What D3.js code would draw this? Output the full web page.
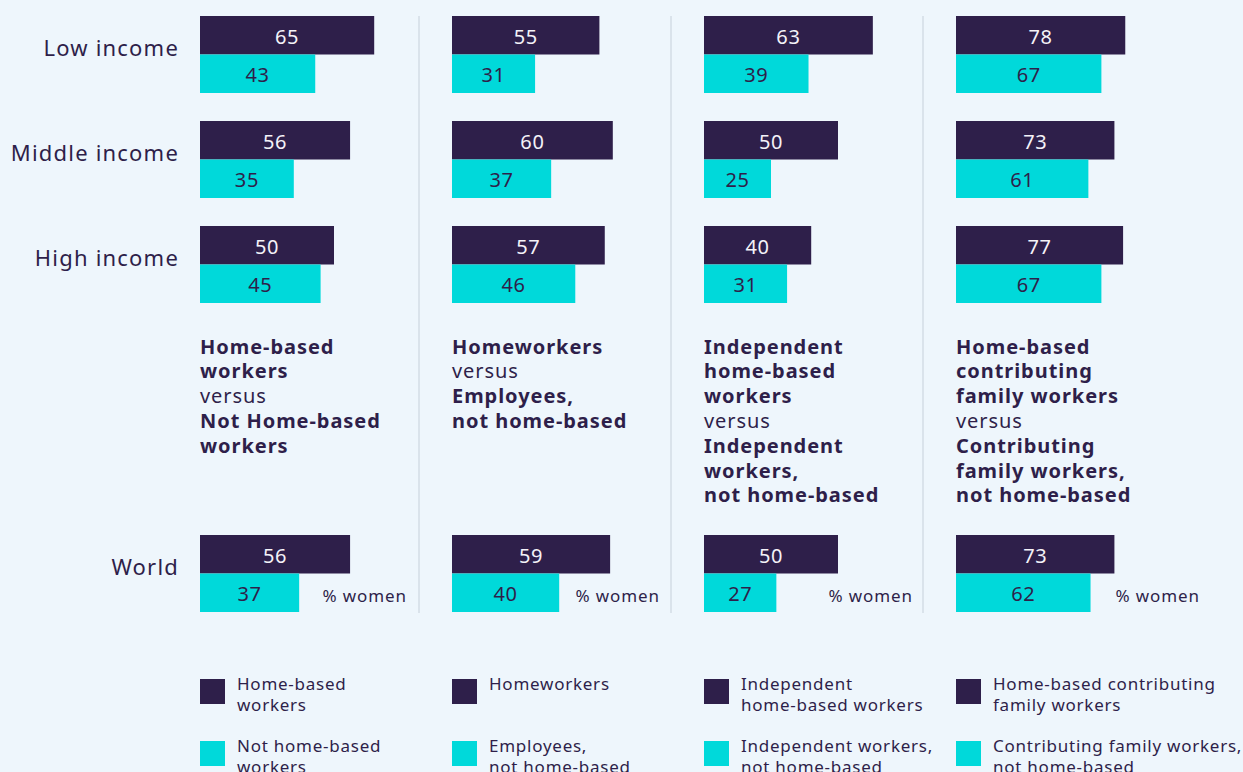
<!DOCTYPE html>
<html>
<head>
<meta charset="utf-8">
<script src="https://cdn.jsdelivr.net/npm/d3@7"></script>
<style>
  html, body { margin: 0; padding: 0; background: #eef6fc; }
  svg { display: block; font-family: "Noto Sans", "Open Sans", sans-serif; }
</style>
</head>
<body>
<div id="chart"></div>
<script>
// regions (rows), World is drawn below the descriptions
var regions = ["Low income", "Middle income", "High income", "World"];

// % women, one array per panel: dark = home-based group, light = comparison group
var darkValues = [
    [65, 56, 50, 56],
    [55, 60, 57, 59],
    [63, 50, 40, 50],
    [78, 73, 77, 73]
];
var lightValues = [
    [43, 35, 45, 37],
    [31, 37, 46, 40],
    [39, 25, 31, 27],
    [67, 61, 67, 62]
];

// description lines per panel, [text, bold]
var descriptions = [
    [["Home-based", 1], ["workers", 1], ["versus", 0], ["Not Home-based", 1], ["workers", 1]],
    [["Homeworkers", 1], ["versus", 0], ["Employees,", 1], ["not home-based", 1]],
    [["Independent", 1], ["home-based", 1], ["workers", 1], ["versus", 0], ["Independent", 1], ["workers,", 1], ["not home-based", 1]],
    [["Home-based", 1], ["contributing", 1], ["family workers", 1], ["versus", 0], ["Contributing", 1], ["family workers,", 1], ["not home-based", 1]]
];

var darkLegend = [
    ["Home-based", "workers"],
    ["Homeworkers"],
    ["Independent", "home-based workers"],
    ["Home-based contributing", "family workers"]
];
var lightLegend = [
    ["Not home-based", "workers"],
    ["Employees,", "not home-based"],
    ["Independent workers,", "not home-based"],
    ["Contributing family workers,", "not home-based"]
];

var unitLabel = "% women";

var W = 1243, H = 772;
var dark = "#2e1f4a", light = "#00d9da", ink = "#2e1f4a";

var svg = d3.select("#chart").append("svg")
    .attr("width", W)
    .attr("height", H);

svg.append("rect").attr("width", W).attr("height", H).attr("fill", "#eef6fc");

var panelX = d3.scaleBand().domain(d3.range(4)).range([200, 1208]);
var barH = 38.5;
var rowTop = [16, 121, 226, 535];
var unitRight = [407, 660, 913, 1200];
// last panel is drawn on a narrower scale
var pxPer100 = [268, 268, 268, 217];

// separators
[419, 671, 923].forEach(function(x) {
    svg.append("line")
        .attr("x1", x).attr("x2", x)
        .attr("y1", 16).attr("y2", 613)
        .attr("stroke", "#d3dde6")
        .attr("stroke-width", 1.5);
});

// row labels
svg.selectAll(".row-label")
    .data(regions)
    .enter().append("text")
    .attr("class", "row-label")
    .attr("x", 179)
    .attr("y", function(d, i) { return rowTop[i] + barH - 8; })
    .attr("text-anchor", "end")
    .attr("dominant-baseline", "central")
    .attr("fill", ink)
    .style("font-size", "22px")
    .style("letter-spacing", "1.2px")
    .text(function(d) { return d; });

darkValues.forEach(function(dv, p) {
    var lv = lightValues[p];
    var x0 = panelX(p);
    var x = d3.scaleLinear().domain([0, 100]).range([0, pxPer100[p]]);

    var g = svg.append("g").attr("transform", "translate(" + x0 + ",0)");

    regions.forEach(function(r, i) {
        var y = rowTop[i];
        g.append("rect")
            .attr("x", 0).attr("y", y)
            .attr("width", x(dv[i])).attr("height", barH)
            .attr("fill", dark);
        g.append("rect")
            .attr("x", 0).attr("y", y + barH)
            .attr("width", x(lv[i])).attr("height", barH)
            .attr("fill", light);
        g.append("text")
            .attr("x", x(dv[i]) / 2).attr("y", y + barH / 2 + 1)
            .attr("text-anchor", "middle")
            .attr("dominant-baseline", "central")
            .attr("fill", "#f4f2f8")
            .style("font-size", "20px")
            .style("letter-spacing", "0.6px")
            .text(dv[i]);
        g.append("text")
            .attr("x", x(lv[i]) / 2).attr("y", y + barH * 1.5 + 1)
            .attr("text-anchor", "middle")
            .attr("dominant-baseline", "central")
            .attr("fill", ink)
            .style("font-size", "20px")
            .style("letter-spacing", "0.6px")
            .text(lv[i]);
    });

    // % women
    svg.append("text")
        .attr("x", unitRight[p])
        .attr("y", rowTop[3] + barH * 1.5 + 3)
        .attr("text-anchor", "end")
        .attr("dominant-baseline", "central")
        .attr("fill", ink)
        .style("font-size", "17px")
        .style("letter-spacing", "0.9px")
        .text(unitLabel);

    // description
    var desc = g.append("text")
        .attr("fill", ink)
        .style("font-size", "20px");
    descriptions[p].forEach(function(line, k) {
        desc.append("tspan")
            .attr("x", 0)
            .attr("y", 346 + k * 24.8)
            .attr("dominant-baseline", "central")
            .style("font-weight", line[1] ? "700" : "400")
            .style("letter-spacing", line[1] ? "0.95px" : "0.9px")
            .text(line[0]);
    });

    // legend
    [[dark, darkLegend[p], 679], [light, lightLegend[p], 741]].forEach(function(item) {
        g.append("rect")
            .attr("x", 0).attr("y", item[2])
            .attr("width", 25).attr("height", 25)
            .attr("fill", item[0]);
        var t = g.append("text")
            .attr("fill", ink)
            .style("font-size", "17px")
            .style("letter-spacing", "0.75px");
        item[1].forEach(function(line, k) {
            t.append("tspan")
                .attr("x", 37)
                .attr("y", item[2] + 4 + k * 21)
                .attr("dominant-baseline", "central")
                .text(line);
        });
    });
});
</script>
</body>
</html>
